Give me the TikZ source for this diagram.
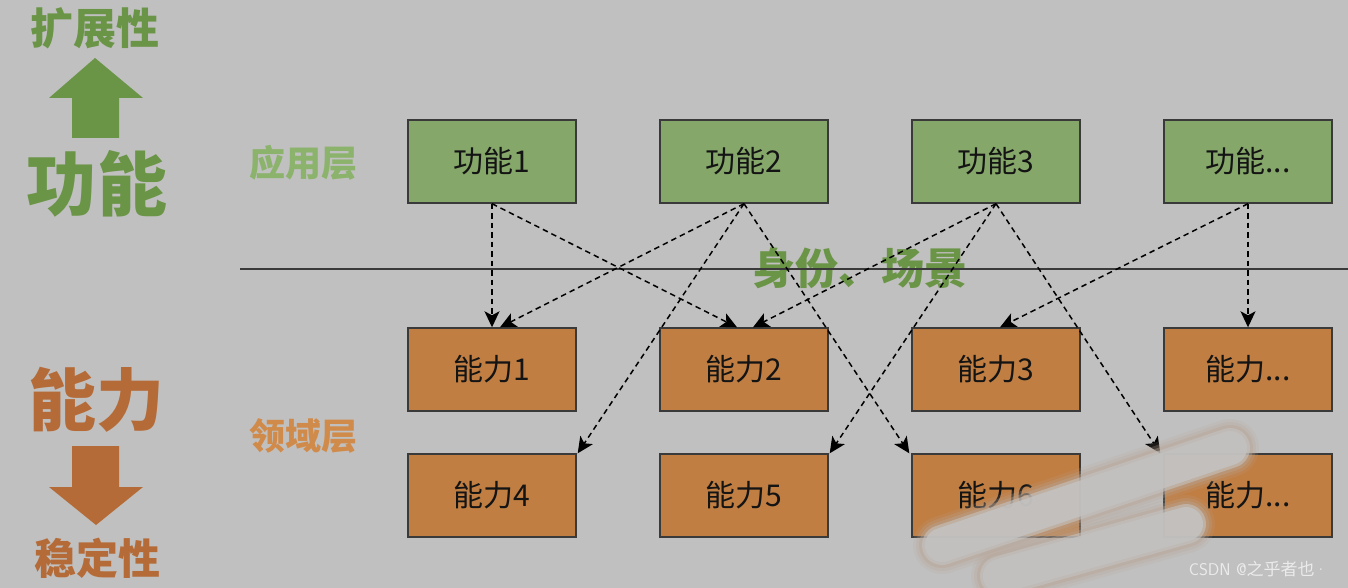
\documentclass[tikz,border=0pt]{standalone}
\usepackage{fontspec}
\newfontfamily\cjk{Noto Sans CJK SC}
\usetikzlibrary{arrows.meta}
\definecolor{bg}{HTML}{C0C0C0}
\definecolor{gtext}{HTML}{6A9446}
\definecolor{otext}{HTML}{B56B38}
\definecolor{glayer}{HTML}{8BB36B}
\definecolor{olayer}{HTML}{D08B4A}
\definecolor{gbox}{HTML}{85A86A}
\definecolor{obox}{HTML}{C07E42}
\definecolor{edge}{HTML}{3A3A3A}
\definecolor{smudge}{HTML}{C3C2C1}
\definecolor{smudgeb}{HTML}{B8A596}
\tikzset{
  fbox/.style={draw=edge, line width=1.4pt, fill=gbox, minimum width=168pt, minimum height=83pt, inner sep=0pt, font=\cjk\fontsize{30}{30}\selectfont, text=black!92},
  nbox/.style={fbox, fill=obox},
  dep/.style={draw=black, line width=1.5pt, dash pattern=on 5.5pt off 4pt, -{Stealth[length=16pt,width=15pt,inset=4pt]}},
  bigg/.style={font=\cjk\bfseries\fontsize{70}{70}\selectfont, text=gtext, inner sep=0pt},
  bigo/.style={font=\cjk\bfseries\fontsize{68}{68}\selectfont, text=otext, inner sep=0pt},
  midg/.style={font=\cjk\bfseries\fontsize{43}{43}\selectfont, text=gtext, inner sep=0pt},
  mido/.style={font=\cjk\bfseries\fontsize{42}{42}\selectfont, text=otext, inner sep=0pt},
  layer/.style={font=\cjk\bfseries\fontsize{36}{36}\selectfont, inner sep=0pt},
  smear/.style={line cap=round, line join=round},
}
\begin{document}
\begin{tikzpicture}[x=1pt,y=-1pt]
\useasboundingbox (0,0) rectangle (1348,588);
\fill[bg] (0,0) rectangle (1348,588);

% left side
\node[midg] (ext) at (95,28) {扩展性};
\fill[gtext] (95,58) -- (143,98) -- (119,98) -- (119,138) -- (72,138) -- (72,98) -- (49,98) -- cycle;
\node[bigg] (gn) at (97,184) {功能};
\node[bigo] (nl) at (96,400) {能力};
\fill[otext] (72,446) -- (119,446) -- (119,487) -- (143,487) -- (96,525) -- (49,487) -- (72,487) -- cycle;
\node[mido] (stab) at (97,558) {稳定性};

% layer labels
\node[layer, text=glayer] (app) at (303,163) {应用层};
\node[layer, text=olayer] (dom) at (303,436) {领域层};

% middle label
\node[midg] (ctx) at (860,268) {身份、场景};
\draw[edge, line width=1.5pt] (240,269) -- (1348,269);

% boxes
\node[fbox] (f1) at (492,161.5) {功能1};
\node[fbox] (f2) at (744,161.5) {功能2};
\node[fbox] (f3) at (996,161.5) {功能3};
\node[fbox] (f4) at (1248,161.5) {功能...};

\node[nbox] (n1) at (492,369.5) {能力1};
\node[nbox] (n2) at (744,369.5) {能力2};
\node[nbox] (n3) at (996,369.5) {能力3};
\node[nbox] (n4) at (1248,369.5) {能力...};

\node[nbox] (m1) at (492,495.5) {能力4};
\node[nbox] (m2) at (744,495.5) {能力5};
\node[nbox] (m3) at (996,495.5) {能力6};
\node[nbox] (m4) at (1248,495.5) {能力...};

% connectors
\draw[dep] (f1.south) -- (n1.north);
\draw[dep] (f1.south) -- ([xshift=-7pt]n2.north);
\draw[dep] (f2.south) -- ([xshift=8pt]n1.north);
\draw[dep] (f2.south) -- ([xshift=1pt]m1.north east);
\draw[dep] (f2.south) -- ([xshift=-2pt]m3.north west);
\draw[dep] (f3.south) -- ([xshift=9pt]n2.north);
\draw[dep] (f3.south) -- ([xshift=1pt]m2.north east);
\draw[dep] (f3.south) -- ([xshift=-3pt]m4.north west);
\draw[dep] (f4.south) -- ([xshift=4pt]n3.north);
\draw[dep] (f4.south) -- (n4.north);

% smudge
\foreach \w/\o in {58/0.15,52/0.25,46/0.4}{
  \draw[smear, line width=\w pt, color=smudgeb, opacity=\o] (1230,448) -- (942,545);
  \draw[smear, line width=\w pt, color=smudgeb, opacity=\o] (1186,524) -- (1000,576);
}
\foreach \w/\o in {40/0.6,34/0.85}{
  \draw[smear, line width=\w pt, color=smudge, opacity=\o] (1230,448) -- (942,545);
  \draw[smear, line width=\w pt, color=smudge, opacity=\o] (1186,524) -- (1000,576);
}

% watermark
\node[font=\sffamily\fontsize{17}{17}\selectfont, text=white!92!black, inner sep=0pt] (wm) at (1258,569) {CSDN @{\cjk 之乎者也}·};
\end{tikzpicture}
\end{document}
